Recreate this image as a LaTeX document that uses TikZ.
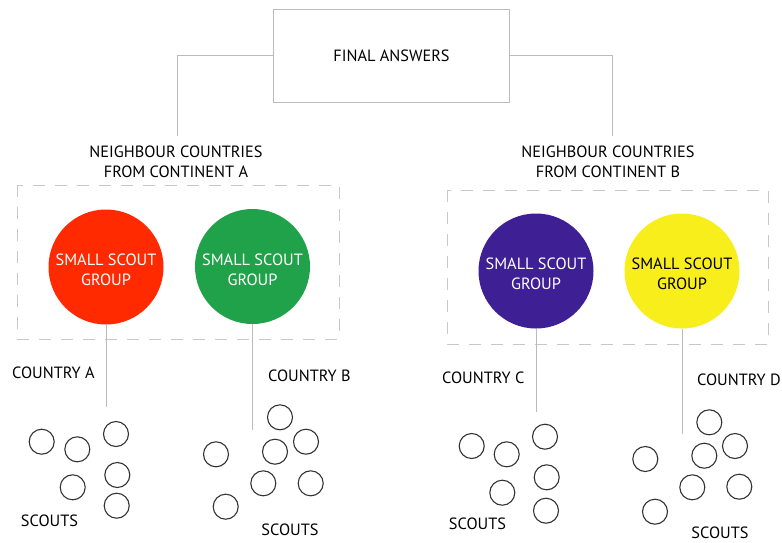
\documentclass[tikz,border=0pt]{standalone}
\usepackage{fontspec}
\setmainfont{PT Sans}
\definecolor{cred}{HTML}{FF2A00}
\definecolor{cgreen}{HTML}{1FA24A}
\definecolor{cpurple}{HTML}{3F1F94}
\definecolor{cyellow}{HTML}{F8EE1C}
\definecolor{lgrey}{HTML}{BBBBBB}
\definecolor{dgrey}{HTML}{C8C8C8}
\begin{document}
\begin{tikzpicture}[x=1pt,y=-1pt,
  lbl/.style={font=\fontsize{16.3}{20}\selectfont, text=black, align=center, inner sep=0pt},
  group/.style={circle, minimum size=115pt, inner sep=0pt},
  gtext/.style={label={[font=\fontsize{16.3}{20}\selectfont, align=center, text=#1, inner sep=0pt, yshift=-3pt]center:SMALL SCOUT\\GROUP}},
  scout/.style={circle, draw=black!80, line width=1.1pt, minimum size=25pt, inner sep=0pt},
  conn/.style={draw=lgrey, line width=0.8pt},
  dbox/.style={draw=dgrey, line width=0.9pt, dash pattern=on 12pt off 10pt}]
\useasboundingbox (0,0) rectangle (782,542);
\fill[white] (0,0) rectangle (782,542);

% final answers box
\node[draw=lgrey, line width=0.8pt, minimum width=236pt, minimum height=93pt, lbl] (fa) at (391.5,55.5) {FINAL ANSWERS};

% continent labels
\node[lbl] (nA) at (176,162) {NEIGHBOUR COUNTRIES\\FROM CONTINENT A};
\node[lbl] (nB) at (608,162) {NEIGHBOUR COUNTRIES\\FROM CONTINENT B};
\coordinate (tA) at (177,136);
\coordinate (tB) at (612,136);
\draw[conn] (fa.west) -| (tA);
\draw[conn] (fa.east) -| (tB);

% dashed boxes
\draw[dbox] (17,185) rectangle (339,339);
\draw[dbox] (447,190) rectangle (768,344);

% groups
\node[group, fill=cred, gtext=white] (gA) at (106,267) {};
\node[group, fill=cgreen, gtext=white] (gB) at (252.5,266.5) {};
\node[group, fill=cpurple, gtext=white] (gC) at (536,271) {};
\node[group, fill=cyellow, gtext=black] (gD) at (682,271) {};

\coordinate (eA) at (106,407);
\coordinate (eB) at (252.5,430);
\coordinate (eC) at (536,412);
\coordinate (eD) at (682,434);
\draw[conn] (gA.south) -- (eA);
\draw[conn] (gB.south) -- (eB);
\draw[conn] (gC.south) -- (eC);
\draw[conn] (gD.south) -- (eD);

% country labels
\node[lbl, anchor=west] (cA) at (12,373) {COUNTRY A};
\node[lbl, anchor=west] (cB) at (268,376) {COUNTRY B};
\node[lbl, anchor=west] (cC) at (442,378) {COUNTRY C};
\node[lbl, anchor=west] (cD) at (697,380) {COUNTRY D};

% scouts A
\node[scout] (a1) at (41.7,441.7) {};
\node[scout] (a2) at (77.3,449.3) {};
\node[scout] (a3) at (116,434) {};
\node[scout] (a4) at (72.7,487.3) {};
\node[scout] (a5) at (117.3,475) {};
\node[scout] (a6) at (116.7,505.7) {};
\node[lbl] (sA) at (49.5,520.7) {SCOUTS};
% scouts B
\node[scout] (b1) at (216,454.3) {};
\node[scout] (b2) at (280,417.3) {};
\node[scout] (b3) at (306,441.7) {};
\node[scout] (b4) at (275,451.7) {};
\node[scout] (b5) at (263.3,483.3) {};
\node[scout] (b6) at (310.7,483.3) {};
\node[scout] (b7) at (225.7,506.7) {};
\node[lbl] (sB) at (290,530) {SCOUTS};
% scouts C
\node[scout] (c1) at (471.7,446) {};
\node[scout] (c2) at (506.7,454.3) {};
\node[scout] (c3) at (545,436.7) {};
\node[scout] (c4) at (502.3,492.7) {};
\node[scout] (c5) at (546.7,477.3) {};
\node[scout] (c6) at (546,510.7) {};
\node[lbl] (sC) at (477.5,524) {SCOUTS};
% scouts D
\node[scout] (d1) at (645.3,459) {};
\node[scout] (d2) at (709.3,422.3) {};
\node[scout] (d3) at (735,446) {};
\node[scout] (d4) at (704.3,455.7) {};
\node[scout] (d5) at (692.3,487.3) {};
\node[scout] (d6) at (739.3,486.7) {};
\node[scout] (d7) at (655,511.7) {};
\node[lbl] (sD) at (720,533) {SCOUTS};
\end{tikzpicture}
\end{document}
